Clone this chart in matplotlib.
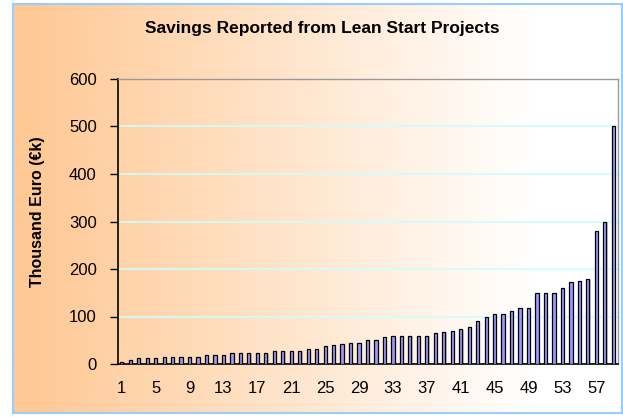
import numpy as np
import matplotlib.pyplot as plt

# Savings per project, sorted (thousand euro)
projects = np.arange(1, 60)
savings = [5, 8, 12, 12, 12, 15, 15, 15, 15, 15,
           20, 20, 20, 23, 23, 23, 23, 23, 28, 28,
           28, 28, 31, 31, 38, 39, 42, 45, 45, 50,
           50, 57, 60, 60, 60, 60, 60, 65, 68, 70,
           73, 78, 90, 100, 105, 105, 112, 118, 118, 150,
           150, 150, 160, 172, 175, 180, 280, 300, 500]
xticks = list(range(1, 58, 4))
yticks = [0, 100, 200, 300, 400, 500, 600]

plt.rcParams['font.family'] = ['Liberation Sans', 'DejaVu Sans']

W, H = 623, 417
fig = plt.figure(figsize=(W / 100, H / 100), dpi=100)
fig.patch.set_facecolor('white')

# Chart area with left-to-right orange -> white gradient
bx0, by0, bx1, by1 = 13 / W, 4 / H, 622 / W, 413 / H
bg = fig.add_axes([bx0, 1 - by1, bx1 - bx0, by1 - by0], zorder=0)
t = np.clip(np.linspace(0, 1, 600) / 0.85, 0, 1)
t = np.clip((t - 0.04) / 0.96, 0, 1)
c0 = np.array([255, 201, 150]) / 255
c1 = np.array([255, 255, 255]) / 255
grad = (c0[None, :] * (1 - t[:, None]) + c1[None, :] * t[:, None])[None, :, :]
bg.imshow(grad, aspect='auto', extent=[0, 1, 0, 1])
bg.set_xticks([])
bg.set_yticks([])
for s in bg.spines.values():
    s.set_color('#99CCFF')
    s.set_linewidth(1.5)

# Plot area
ax = fig.add_axes([117.5 / W, 1 - 364 / H, 500 / W, (364 - 79) / H], zorder=1)
ax.patch.set_alpha(0)

# shadows then bars
ax.bar(projects + 0.12, np.array(savings) - 1.5, width=0.42, bottom=0,
       color='#888888', alpha=0.45, linewidth=0, zorder=2)
ax.bar(projects, savings, width=0.38, color='#9999FF', edgecolor='black',
       linewidth=0.9, zorder=3)

ax.set_xlim(0.5, 59.5)
ax.set_ylim(0, 600)
ax.set_yticks(yticks)
ax.set_xticks(xticks)
ax.yaxis.grid(True, color='#CCFFFF', linewidth=1.2, zorder=1)
ax.set_axisbelow(True)
ax.tick_params(axis='y', direction='out', length=6, width=1, labelsize=12, pad=9)
ax.tick_params(axis='x', length=0, labelsize=12, pad=12)

for side in ['top', 'right']:
    ax.spines[side].set_color('#999999')
    ax.spines[side].set_linewidth(1)
for side in ['left', 'bottom']:
    ax.spines[side].set_color('black')
    ax.spines[side].set_linewidth(1.2)

ax.set_ylabel('Thousand Euro (€k)', fontsize=11.5, fontweight='bold')
ax.yaxis.set_label_coords(-0.145, 0.535)
fig.text(322 / W, 1 - 29 / H, 'Savings Reported from Lean Start Projects',
         ha='center', va='center', fontsize=12.5, fontweight='bold')

fig.savefig('out.png', dpi=100)
